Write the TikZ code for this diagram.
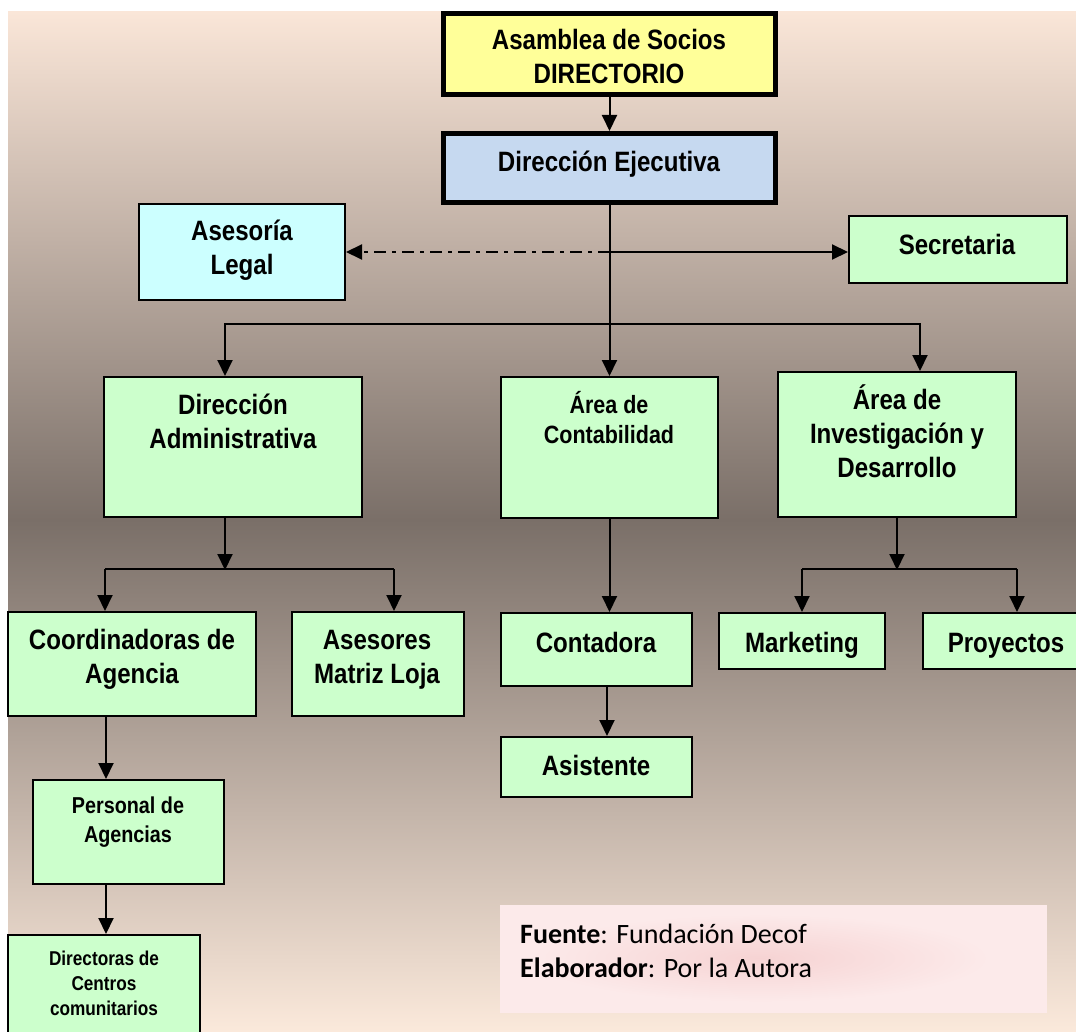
\documentclass[tikz,border=0pt]{standalone}
\usepackage{fontspec}
\usetikzlibrary{arrows.meta,calc}
\newfontfamily\boxfont[FakeStretch=0.86]{Liberation Sans}
\newfontfamily\notefont{Carlito}

\definecolor{bgpeach}{RGB}{250,230,216}
\definecolor{bgdark}{RGB}{122,111,104}
\definecolor{bgpeachlow}{RGB}{251,233,219}
\definecolor{fillyellow}{RGB}{255,255,153}
\definecolor{fillblue}{RGB}{198,217,240}
\definecolor{fillcyan}{RGB}{204,255,255}
\definecolor{fillgreen}{RGB}{204,255,204}
\definecolor{notepink}{RGB}{252,234,234}
\definecolor{noteblush}{RGB}{246,211,211}

\tikzset{
  unit/.style={draw=black, line width=2pt, fill=fillgreen, inner sep=0pt},
  headunit/.style={unit, line width=5pt},
  lbl/.style={font=\boxfont\bfseries\fontsize{28}{34}\selectfont, align=center, inner sep=0pt, anchor=base},
  lblmid/.style={lbl, font=\boxfont\bfseries\fontsize{25}{30}\selectfont},
  lblsmall/.style={lbl, font=\boxfont\bfseries\fontsize{23}{29}\selectfont},
  lbltiny/.style={lbl, font=\boxfont\bfseries\fontsize{20}{25}\selectfont},
  link/.style={line width=2pt, draw=black},
  arr/.style={link, -{Triangle[width=15pt,length=16pt]}},
  dotdash/.style={dash pattern=on 12pt off 6pt on 4pt off 6pt}
}

\begin{document}
\begin{tikzpicture}[x=1pt,y=-1pt]
  % page and shaded backdrop
  \fill[white] (0,0) rectangle (1076,1032);
  \clip (0,0) rectangle (1076,1032);
  \shade[top color=bgpeach, bottom color=bgdark] (8,12) rectangle (1076,520);
  \shade[top color=bgdark, bottom color=bgpeachlow] (8,519.5) rectangle (1076,1032);

  % boxes
  \node[headunit, fill=fillyellow, minimum width=332pt, minimum height=81pt] (asam) at (609.5,54) {};
  \node[headunit, fill=fillblue, minimum width=332pt, minimum height=69pt] (dirE) at (609.5,168) {};
  \node[unit, fill=fillcyan, minimum width=206pt, minimum height=96pt] (legal) at (242,252) {};
  \node[unit, minimum width=218pt, minimum height=67pt] (secr) at (958,249.5) {};
  \node[unit, minimum width=258pt, minimum height=140pt] (dadm) at (233,447) {};
  \node[unit, minimum width=217pt, minimum height=141pt] (cont) at (609.5,447.5) {};
  \node[unit, minimum width=238pt, minimum height=145pt] (inv) at (897,444.5) {};
  \node[unit, minimum width=248pt, minimum height=104pt] (coor) at (132,664) {};
  \node[unit, minimum width=172pt, minimum height=104pt] (ases) at (378,664) {};
  \node[unit, minimum width=191pt, minimum height=73pt] (ctd) at (596.5,649.5) {};
  \node[unit, minimum width=166pt, minimum height=56pt] (mkt) at (802,641) {};
  \node[unit, minimum width=165pt, minimum height=56pt] (proy) at (1005.5,641) {};
  \node[unit, minimum width=191pt, minimum height=60pt] (asis) at (596.5,767) {};
  \node[unit, minimum width=191pt, minimum height=104pt] (pers) at (128.5,832) {};
  \node[unit, minimum width=192pt, minimum height=115pt] (dirc) at (104,992.5) {};

  % box texts (anchored at the baseline of their last line)
  \node[lbl] (asam-t) at (609,84) {Asamblea de Socios\\DIRECTORIO};
  \node[lbl] (dirE-t) at (609,172) {Dirección Ejecutiva};
  \node[lbl] (legal-t) at (242,275) {Asesoría\\Legal};
  \node[lbl] (secr-t) at (957,255) {Secretaria};
  \node[lbl] (dadm-t) at (233,448) {Dirección\\Administrativa};
  \node[lblmid] (cont-t) at (609,443) {Área de\\Contabilidad};
  \node[lbl] (inv-t) at (897,477) {Área de\\Investigación y\\Desarrollo};
  \node[lbl] (coor-t) at (132,683) {Coordinadoras de\\Agencia};
  \node[lbl] (ases-t) at (377,683) {Asesores\\Matriz Loja};
  \node[lbl] (ctd-t) at (596,652) {Contadora};
  \node[lbl] (mkt-t) at (802,652) {Marketing};
  \node[lbl] (proy-t) at (1006,652) {Proyectos};
  \node[lbl] (asis-t) at (596,775) {Asistente};
  \node[lblsmall] (pers-t) at (128,842) {Personal de\\Agencias};
  \node[lbltiny] (dirc-t) at (104,1015) {Directoras de\\Centros\\comunitarios};

  % top of the chart
  \draw[arr] (asam) -- (dirE);
  \draw[arr] (dirE.south) -- (cont.north);
  \coordinate (hub) at (609.5,324);
  \draw[arr] (hub) -| ([xshift=-8pt]dadm.north);
  \draw[arr] (hub) -| ([xshift=23pt]inv.north);

  % staff links
  \coordinate (side) at (609.5,252);
  \draw[arr, dotdash] (side) -- (side -| legal.east);
  \draw[arr] (side) -- (side -| secr.west);

  % administrative branch
  \coordinate (dsplit) at (225,569);
  \draw[arr] (dadm.south -| dsplit) -- ([yshift=-1pt]dsplit);
  \draw[link] ([xshift=-27pt]coor.north |- dsplit) -- ([xshift=16pt]ases.north |- dsplit);
  \draw[arr] ([xshift=-27pt]coor.north |- dsplit) -- ([xshift=-27pt]coor.north);
  \draw[arr] ([xshift=16pt]ases.north |- dsplit) -- ([xshift=16pt]ases.north);
  \draw[arr] ([xshift=-26pt]coor.south) -- ([xshift=-26pt]coor.south |- pers.north);
  \draw[arr] ([xshift=-22.5pt]pers.south) -- ([xshift=-22.5pt]pers.south |- dirc.north);

  % accounting branch
  \draw[arr] (cont.south) -- (cont.south |- ctd.north);
  \draw[arr] ([xshift=10.5pt]ctd.south) -- ([xshift=10.5pt]asis.north);

  % research branch
  \coordinate (isplit) at (897,569);
  \draw[arr] (inv.south) -- ([yshift=-1pt]isplit);
  \draw[link] (isplit -| mkt.north) -- (isplit -| inv.east);
  \draw[arr] (isplit -| mkt.north) -- (mkt.north);
  \draw[arr] (isplit -| inv.east) -- (inv.east |- proy.north);

  % source note with its soft blush
  \node[fill=notepink, inner sep=0pt, minimum width=547pt, minimum height=108pt] (note) at (773.5,959) {};
  \shade[inner color=noteblush, outer color=notepink] (760,958) ellipse (230 and 44);
  \node[font=\notefont\fontsize{28}{34}\selectfont, align=left, anchor=base west, inner sep=0pt] (note-t) at (520,977)
    {\textbf{Fuente}: Fundación Decof\\\textbf{Elaborador}: Por la Autora};
\end{tikzpicture}
\end{document}
